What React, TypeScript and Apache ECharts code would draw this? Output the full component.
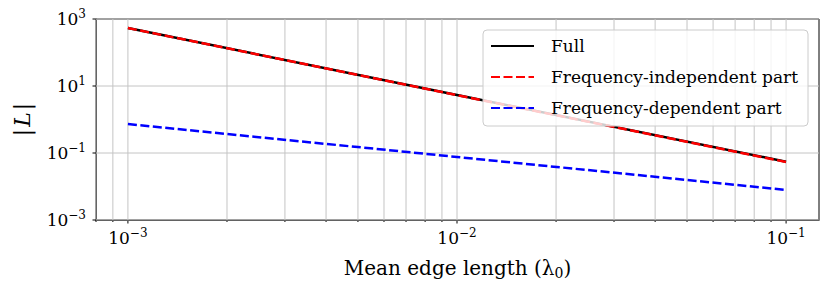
import React, { useEffect, useRef } from "react";
import * as echarts from "echarts";

// Data
const edgeLength = [1e-3, 1e-2, 1e-1];
const fullValues = [537, 5.4, 0.055];
const freqIndependent = [536, 5.35, 0.054];
const freqDependent = [0.73, 0.076, 0.0079];

// Axis ticks
const xMajorTicks = [1e-3, 1e-2, 1e-1];
const xMinorTicks = [
  8e-4, 9e-4,
  2e-3, 3e-3, 4e-3, 5e-3, 6e-3, 7e-3, 8e-3, 9e-3,
  2e-2, 3e-2, 4e-2, 5e-2, 6e-2, 7e-2, 8e-2, 9e-2,
];
const yMajorTicks = [1e-3, 1e-1, 1e1, 1e3];

const X_MIN = Math.pow(10, -3.097);
const X_MAX = Math.pow(10, -0.9);
const Y_MIN = 1e-3;
const Y_MAX = 1e3;

const FONT = "DejaVu Serif";
const GRID_COLOR = "#c4c4c4";

function supLabel(v: number, onlyOdd: boolean): string {
  const e = Math.log10(v);
  const r = Math.round(e);
  if (Math.abs(e - r) > 1e-6) return "";
  if (onlyOdd && Math.abs(r) % 2 === 0) return "";
  const s = (r < 0 ? "\u2212" : "") + Math.abs(r);
  return `{b|10}{s|${s}}`;
}

const richSup = {
  b: { fontSize: 17, fontFamily: FONT, color: "#000", lineHeight: 22 },
  s: { fontSize: 12, fontFamily: FONT, color: "#000", lineHeight: 13, verticalAlign: "top" },
};

export default function App() {
  const ref = useRef<HTMLDivElement>(null);
  useEffect(() => {
    if (!ref.current) return;
    const chart = echarts.init(ref.current, undefined, { renderer: "svg" });

    const xTickSeries = (ticks: number[], len: number) => ({
      type: "custom",
      silent: true,
      clip: false,
      z: 1,
      encode: { x: 0, y: 1 },
      data: ticks.map((v) => [v, 1]),
      renderItem: (_p: any, api: any) => {
        const v = api.value(0);
        const p0 = api.coord([v, Y_MIN]);
        const p1 = api.coord([v, Y_MAX]);
        return {
          type: "group",
          children: [
            { type: "line", shape: { x1: p0[0], y1: p0[1], x2: p1[0], y2: p1[1] }, style: { stroke: GRID_COLOR, lineWidth: 1 } },
            { type: "line", shape: { x1: p0[0], y1: p0[1], x2: p0[0], y2: p0[1] + len }, style: { stroke: "#000", lineWidth: 1 } },
          ],
        };
      },
    });

    const yTickSeries = {
      type: "custom",
      silent: true,
      clip: false,
      z: 1,
      encode: { x: 0, y: 1 },
      data: yMajorTicks.map((v) => [1e-2, v]),
      renderItem: (_p: any, api: any) => {
        const v = api.value(1);
        const p0 = api.coord([X_MIN, v]);
        const p1 = api.coord([X_MAX, v]);
        return {
          type: "group",
          children: [
            { type: "line", shape: { x1: p0[0], y1: p0[1], x2: p1[0], y2: p1[1] }, style: { stroke: GRID_COLOR, lineWidth: 1 } },
            { type: "line", shape: { x1: p0[0] - 3.5, y1: p0[1], x2: p0[0], y2: p0[1] }, style: { stroke: "#000", lineWidth: 1 } },
          ],
        };
      },
    };

    chart.setOption({
      animation: false,
      grid: {
        left: 96,
        right: 11,
        top: 19,
        bottom: 73,
        show: true,
        borderColor: "#000",
        borderWidth: 1,
        backgroundColor: "transparent",
      },
      legend: {
        orient: "vertical",
        z: 10,
        left: 483,
        top: 30,
        padding: [6, 10, 8, 7],
        itemWidth: 43,
        itemHeight: 20,
        itemGap: 11,
        backgroundColor: "rgba(255,255,255,0.8)",
        borderColor: "#cccccc",
        borderWidth: 1,
        borderRadius: 4,
        itemStyle: { opacity: 0 },
        textStyle: { fontFamily: FONT, fontSize: 17, color: "#000", lineHeight: 20, padding: [0, 0, 0, 12] },
        data: ["Full", "Frequency-independent part", "Frequency-dependent part"],
      },
      xAxis: {
        type: "log",
        logBase: 10,
        min: X_MIN,
        max: X_MAX,
        axisLine: { show: true, lineStyle: { color: "#000", width: 1 } },
        axisTick: { show: false },
        splitLine: { show: false },
        minorTick: { show: false },
        axisLabel: {
          margin: 7,
          formatter: (v: number) => supLabel(v, false),
          rich: richSup,
        },
        name: "{t|Mean edge length (\u03bb}{sub|0}{t|)}",
        nameLocation: "middle",
        nameGap: 36,
        nameTextStyle: {
          rich: {
            t: { fontFamily: FONT, fontSize: 20, color: "#000", lineHeight: 24 },
            sub: { fontFamily: FONT, fontSize: 14, color: "#000", lineHeight: 14, verticalAlign: "bottom" },
          },
        },
      },
      yAxis: {
        type: "log",
        logBase: 10,
        min: Y_MIN,
        max: Y_MAX,
        axisLine: { show: true, lineStyle: { color: "#000", width: 1 } },
        axisTick: { show: false },
        splitLine: { show: false },
        minorTick: { show: false },
        axisLabel: {
          margin: 10,
          formatter: (v: number) => supLabel(v, true),
          rich: richSup,
        },
        name: "{t||}{i|L}{t||}",
        nameLocation: "middle",
        nameGap: 63,
        nameRotate: 90,
        nameTextStyle: {
          rich: {
            t: { fontFamily: FONT, fontSize: 22, color: "#000" },
            i: { fontFamily: FONT, fontSize: 22, color: "#000", fontStyle: "italic", padding: [0, 2, 0, 2] },
          },
        },
      },
      series: [
        xTickSeries(xMajorTicks, 3.5),
        xTickSeries(xMinorTicks, 2),
        yTickSeries,
        {
          name: "Full",
          type: "line",
          z: 2,
          symbol: "none",
          data: edgeLength.map((x, i) => [x, fullValues[i]]),
          lineStyle: { color: "#000", width: 2.5, type: "solid" },
          itemStyle: { color: "#000" },
        },
        {
          name: "Frequency-independent part",
          type: "line",
          z: 3,
          symbol: "none",
          data: edgeLength.map((x, i) => [x, freqIndependent[i]]),
          lineStyle: { color: "#ff0000", width: 2.5, type: [9, 3.5] },
          itemStyle: { color: "#ff0000" },
        },
        {
          name: "Frequency-dependent part",
          type: "line",
          z: 3,
          symbol: "none",
          data: edgeLength.map((x, i) => [x, freqDependent[i]]),
          lineStyle: { color: "#0000ff", width: 2.5, type: [9, 3.5] },
          itemStyle: { color: "#0000ff" },
        },
      ],
    });
    return () => chart.dispose();
  }, []);
  return <div ref={ref} style={{ position: "absolute", left: 0, top: 0, width: 830, height: 293 }} />;
}
